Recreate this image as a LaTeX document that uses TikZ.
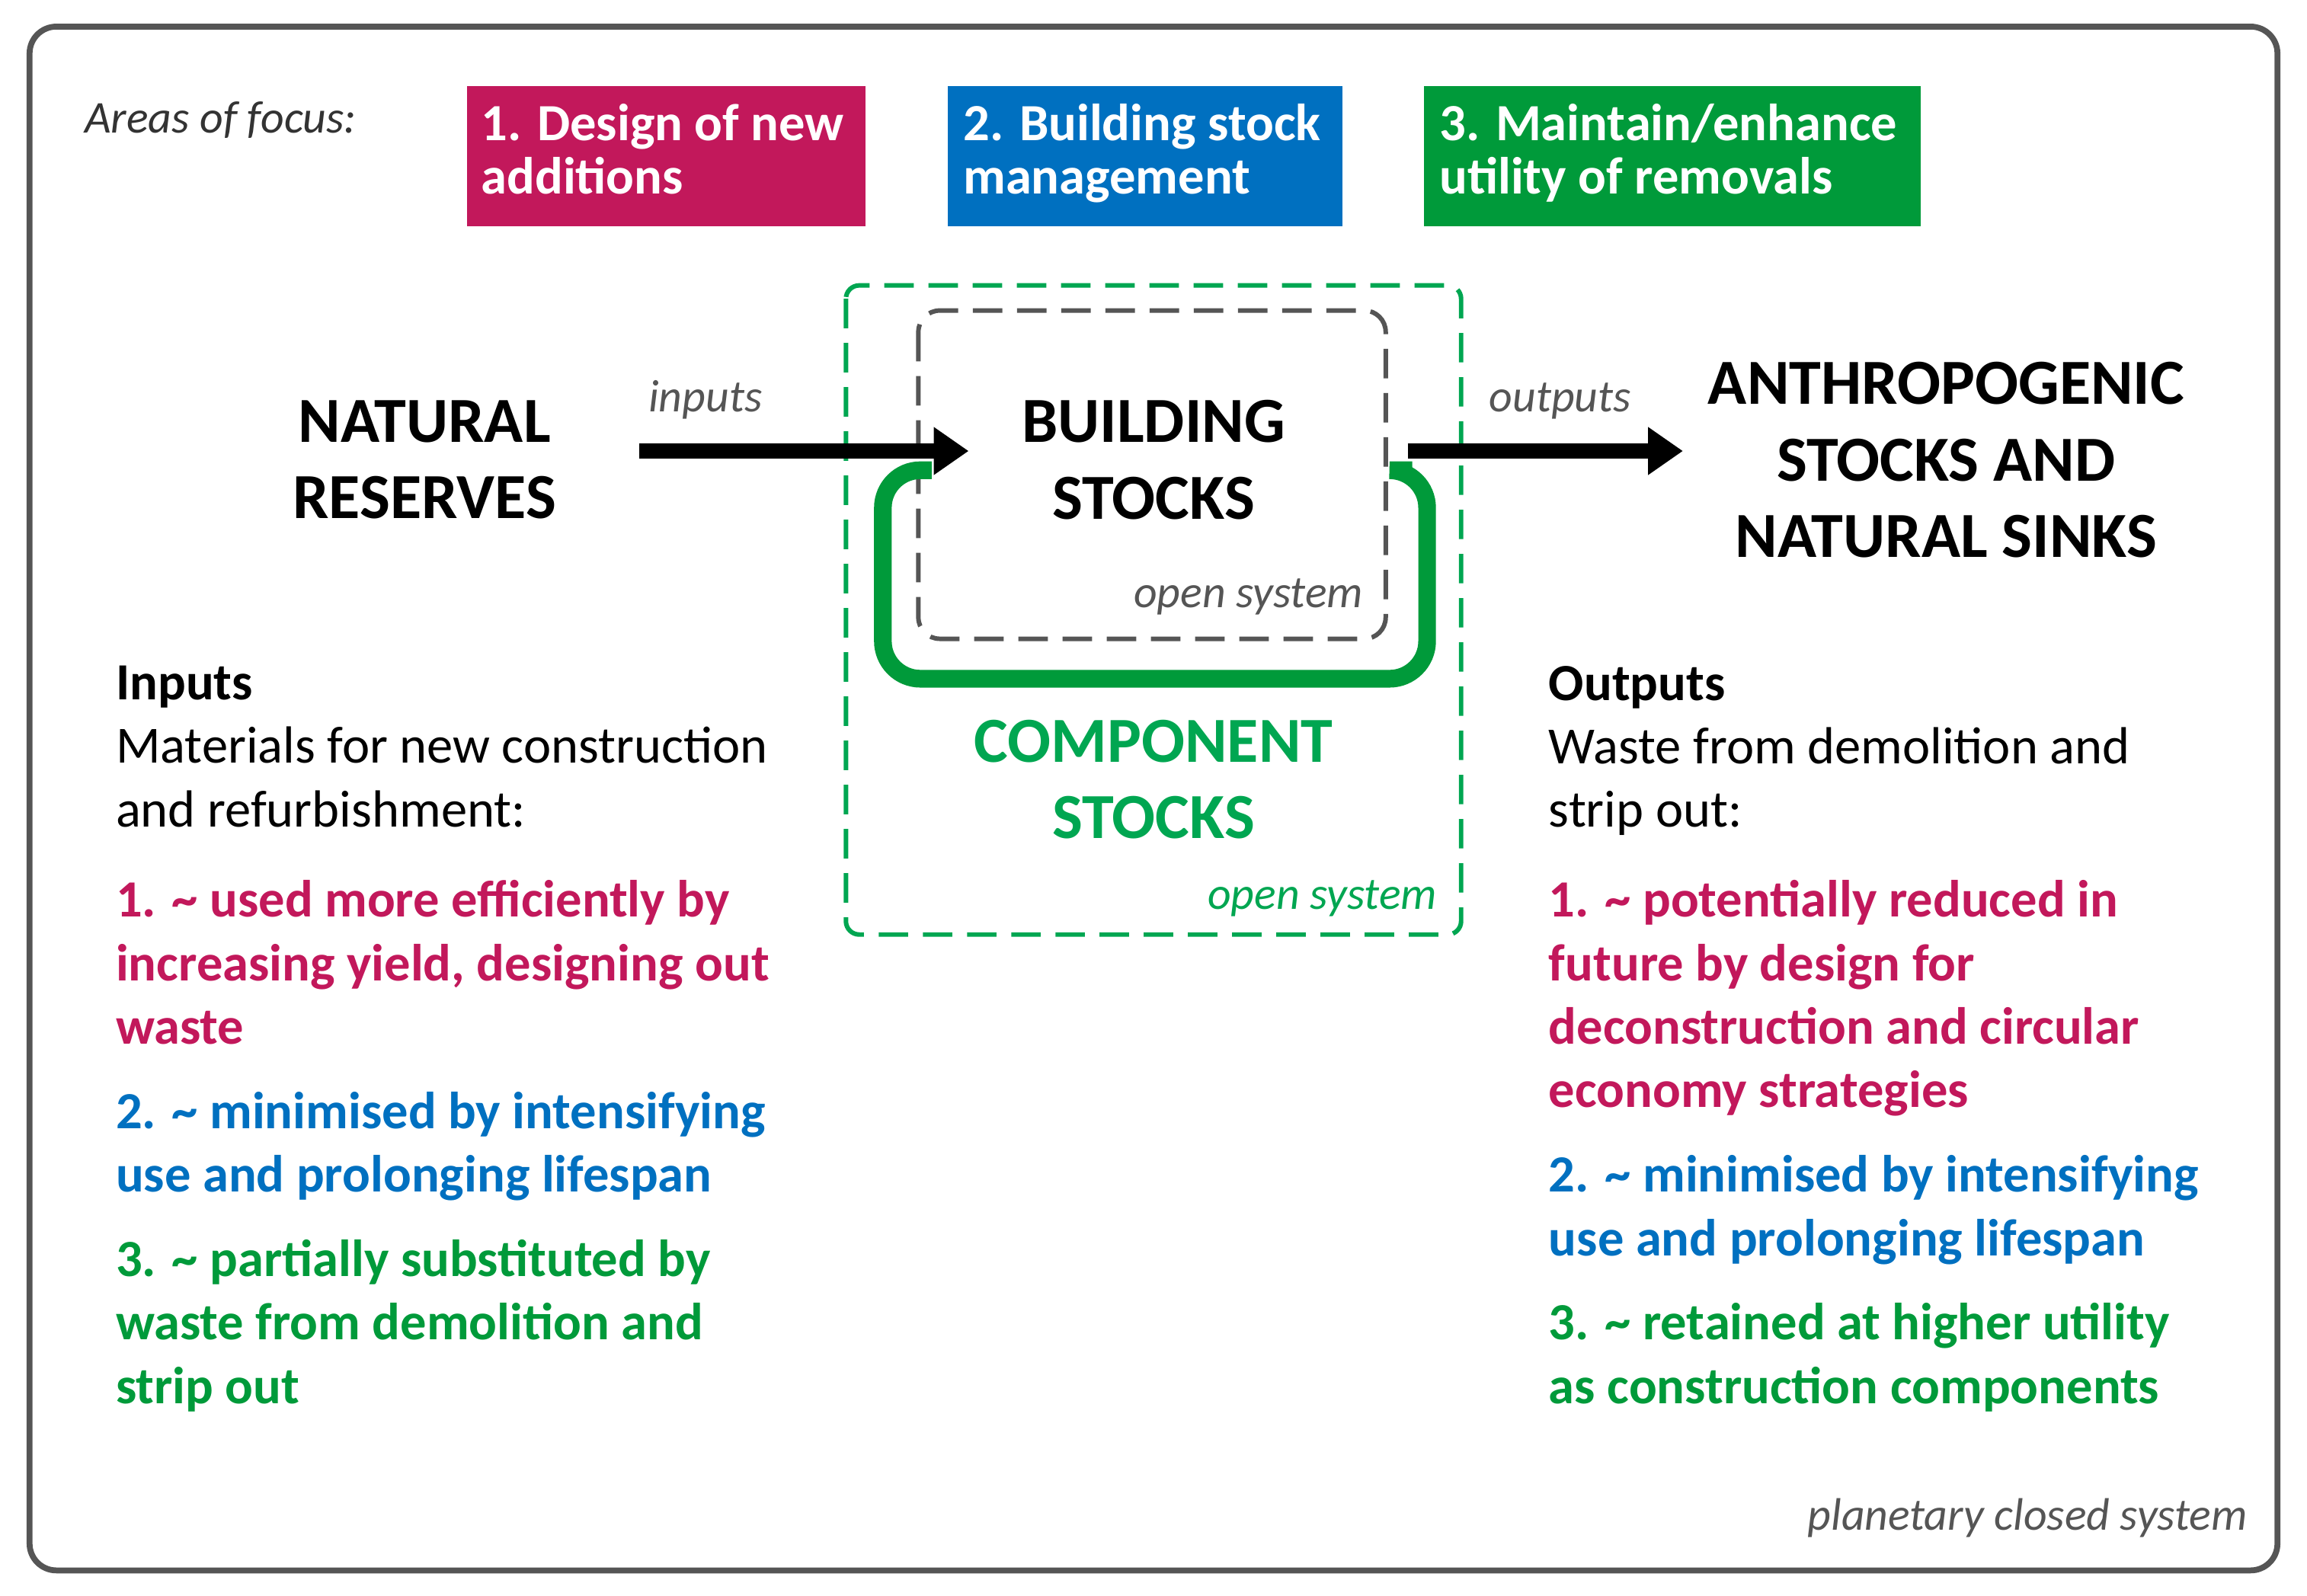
\documentclass[tikz,border=0pt]{standalone}
\usepackage{fontspec}
\setmainfont{Carlito}
\usetikzlibrary{arrows.meta}
\definecolor{mag}{HTML}{C2185B}
\definecolor{blu}{HTML}{0070C0}
\definecolor{grn}{HTML}{009A3A}
\definecolor{grl}{HTML}{00A651}
\definecolor{gry}{HTML}{555555}
\begin{document}
\begin{tikzpicture}[x=0.01941cm,y=-0.01941cm,
  body/.style={inner sep=0pt,anchor=north west,align=left,font=\fontsize{19.5}{23.7}\selectfont},
  big/.style={inner sep=0pt,align=center,font=\fontsize{24}{28.6}\selectfont\bfseries},
  lab/.style={inner sep=0pt,text=gry,font=\fontsize{17}{20}\selectfont\itshape},
  focus/.style={inner sep=0pt,anchor=north west,minimum height=95*0.01941cm,text=white,align=left,
     font=\fontsize{19.5}{20}\selectfont\bfseries,text depth=0pt},
  blk/.style={line width=5.5pt,-{Triangle[length=13pt,width=17pt]}}]
\useasboundingbox (0,0) rectangle (1560,1079);
\draw[gry,line width=2.2pt,rounded corners=10pt] (20,18) rectangle (1540,1062);
\node[lab,anchor=west,text=black!80] (aof) at (57,81) {Areas of focus:};
\fill[mag] (316,58) rectangle (585,153);
\fill[blu] (641,58) rectangle (908,153);
\fill[grn] (963,58) rectangle (1299,153);
\node[inner sep=0pt,anchor=north west,text=white,align=left,font=\fontsize{19.5}{20}\selectfont\bfseries] (f1) at (325,70) {1. Design of new\\additions};
\node[inner sep=0pt,anchor=north west,text=white,align=left,font=\fontsize{19.5}{20}\selectfont\bfseries] (f2) at (651,70) {2. Building stock\\management};
\node[inner sep=0pt,anchor=north west,text=white,align=left,font=\fontsize{19.5}{20}\selectfont\bfseries] (f3) at (973,70) {3. Maintain/enhance\\utility of removals};
% open systems
\draw[grl,line width=1.7pt,dash pattern=on 11pt off 5.5pt,rounded corners=5pt] (572,193) rectangle (988,632);
\draw[gry,line width=1.7pt,dash pattern=on 11pt off 5.5pt,rounded corners=8pt] (621,210) rectangle (937,432);
\node[lab,anchor=south east] (os1) at (922,416) {open system};
\node[lab,anchor=south east,text=grl] (os2) at (972,620) {open system};
% green loop
\coordinate (g1) at (955,318);
\coordinate (g2) at (630,318);
\draw[grn,line width=6.6pt,rounded corners=14pt] (g1) -- (965,318) -- (965,459) -- (597,459) -- (597,318) -- (g2);
% nodes
\node[big] (nr) at (287,311) {NATURAL\\RESERVES};
\node[big] (bs) at (780,311) {BUILDING\\STOCKS};
\node[big,text=grl] (cs) at (780,527) {COMPONENT\\STOCKS};
\node[big] (as) at (1316,311) {ANTHROPOGENIC\\STOCKS AND\\NATURAL SINKS};
\coordinate (a1) at (432,305);
\coordinate (a2) at (655,305);
\coordinate (b1) at (952,305);
\coordinate (b2) at (1138,305);
\draw[blk] (a1) -- (a2);
\draw[blk] (b1) -- (b2);
\node[lab,anchor=south] (in) at (477,284) {inputs};
\node[lab,anchor=south] (out) at (1055,284) {outputs};
% texts
\node[body] (tl) at (78,450) {\textbf{Inputs}\\Materials for new construction\\and refurbishment:};
\node[body,text=mag,font=\fontsize{19.5}{23.7}\selectfont\bfseries] (l1) at (78,595) {1. \textasciitilde{} used more efficiently by\\increasing yield, designing out\\waste};
\node[body,text=blu,font=\fontsize{19.5}{23.7}\selectfont\bfseries] (l2) at (78,738) {2. \textasciitilde{} minimised by intensifying\\use and prolonging lifespan};
\node[body,text=grn,font=\fontsize{19.5}{23.7}\selectfont\bfseries] (l3) at (78,838) {3. \textasciitilde{} partially substituted by\\waste from demolition and\\strip out};
\node[body] (tr) at (1047,450) {\textbf{Outputs}\\Waste from demolition and\\strip out:};
\node[body,text=mag,font=\fontsize{19.5}{23.7}\selectfont\bfseries] (r1) at (1047,595) {1. \textasciitilde{} potentially reduced in\\future by design for\\deconstruction and circular\\economy strategies};
\node[body,text=blu,font=\fontsize{19.5}{23.7}\selectfont\bfseries] (r2) at (1047,781) {2. \textasciitilde{} minimised by intensifying\\use and prolonging lifespan};
\node[body,text=grn,font=\fontsize{19.5}{23.7}\selectfont\bfseries] (r3) at (1047,881) {3. \textasciitilde{} retained at higher utility\\as construction components};
\node[lab,anchor=south east] (pcs) at (1520,1040) {planetary closed system};
\end{tikzpicture}
\end{document}
